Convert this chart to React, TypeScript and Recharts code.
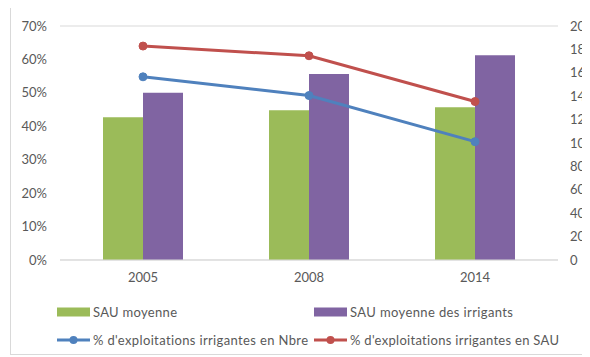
import React from 'react'
import {
  ComposedChart,
  Bar,
  Line,
  XAxis,
  YAxis,
  CartesianGrid,
  Legend,
} from 'recharts'

const years = ['2005', '2008', '2014']
const sauMoyenne = [122, 128, 130.5]
const sauIrrigants = [143, 159, 175]
const pctNbre = [54.8, 49.2, 35.4]
const pctSau = [64, 61.1, 47.4]
const leftTicks = [0, 10, 20, 30, 40, 50, 60, 70]
const rightTicks = [0, 20, 40, 60, 80, 100, 120, 140, 160, 180, 200]

const data = years.map((year, i) => ({
  year,
  sauMoyenne: sauMoyenne[i],
  sauIrrigants: sauIrrigants[i],
  pctNbre: pctNbre[i],
  pctSau: pctSau[i],
}))

const FONT = 'Lato, "Liberation Sans", sans-serif'
const TEXT = '#595959'
const GREEN = '#9BBB59'
const PURPLE = '#8064A2'
const BLUE = '#4F81BD'
const RED = '#C0504D'

// legend layout (x of swatch, row center y, text width as in the reference)
const legendItems = [
  { label: 'SAU moyenne', color: GREEN, type: 'bar', left: 46, top: 22, w: 84 },
  { label: 'SAU moyenne des irrigants', color: PURPLE, type: 'bar', left: 303, top: 22, w: 163 },
  { label: "% d'exploitations irrigantes en Nbre", color: BLUE, type: 'line', left: 46, top: 50, w: 215 },
  { label: "% d'exploitations irrigantes en SAU", color: RED, type: 'line', left: 303, top: 50, w: 209 },
]

function ChartLegend() {
  return (
    <svg width={600} height={60} style={{ display: 'block', fontVariantLigatures: 'none' }}>
      {legendItems.map((item) => (
        <g key={item.label}>
          {item.type === 'bar' ? (
            <rect x={item.left} y={item.top - 4.5} width={33} height={9} fill={item.color} />
          ) : (
            <>
              <line x1={item.left} y1={item.top} x2={item.left + 33} y2={item.top} stroke={item.color} strokeWidth={3} />
              <circle cx={item.left + 16.5} cy={item.top} r={4} fill={item.color} />
            </>
          )}
          <text
            x={item.left + 36}
            y={item.top}
            dy="0.35em"
            fill={TEXT}
            fontSize={13}
            fontFamily={FONT}
            textLength={item.w}
            lengthAdjust="spacing"
          >
            {item.label}
          </text>
        </g>
      ))}
    </svg>
  )
}

export default function App() {
  return (
    <div style={{ marginLeft: 2, marginTop: -1, width: 580, height: 350, overflow: 'hidden' }}>
      <div style={{ width: 601, height: 346, border: '1px solid #d9d9d9', borderRight: 'none', background: '#fff' }}>
        <ComposedChart
          width={600}
          height={346}
          data={data}
          margin={{ top: 18, right: 13, left: 0, bottom: 4 }}
          barGap={0}
          style={{ fontFamily: FONT }}
        >
          <CartesianGrid vertical={false} stroke="#d9d9d9" strokeWidth={1} />
          <XAxis
            dataKey="year"
            tickLine={false}
            axisLine={{ stroke: '#d9d9d9' }}
            tick={{ fill: TEXT, fontSize: 13 }}
            tickMargin={7}
            height={30}
          />
          <YAxis
            yAxisId="left"
            orientation="left"
            domain={[0, 70]}
            ticks={leftTicks}
            tickFormatter={(v) => `${v}%`}
            tickLine={false}
            axisLine={false}
            tick={{ fill: TEXT, fontSize: 13 }}
            tickMargin={7}
            width={49}
          />
          <YAxis
            yAxisId="right"
            orientation="right"
            domain={[0, 200]}
            ticks={rightTicks}
            tickLine={false}
            axisLine={false}
            tick={{ fill: TEXT, fontSize: 13, textAnchor: 'start' }}
            tickMargin={6}
            width={40}
          />
          <Legend verticalAlign="bottom" height={60} content={() => <ChartLegend />} />
          <Bar yAxisId="right" dataKey="sauMoyenne" name="SAU moyenne" fill={GREEN} barSize={40} isAnimationActive={false} />
          <Bar yAxisId="right" dataKey="sauIrrigants" name="SAU moyenne des irrigants" fill={PURPLE} barSize={40} isAnimationActive={false} />
          <Line
            yAxisId="left"
            dataKey="pctNbre"
            name="% d'exploitations irrigantes en Nbre"
            stroke={BLUE}
            strokeWidth={3}
            dot={{ r: 4, fill: BLUE, stroke: BLUE, strokeWidth: 1 }}
            isAnimationActive={false}
          />
          <Line
            yAxisId="left"
            dataKey="pctSau"
            name="% d'exploitations irrigantes en SAU"
            stroke={RED}
            strokeWidth={3}
            dot={{ r: 4, fill: RED, stroke: RED, strokeWidth: 1 }}
            isAnimationActive={false}
          />
        </ComposedChart>
      </div>
    </div>
  )
}
